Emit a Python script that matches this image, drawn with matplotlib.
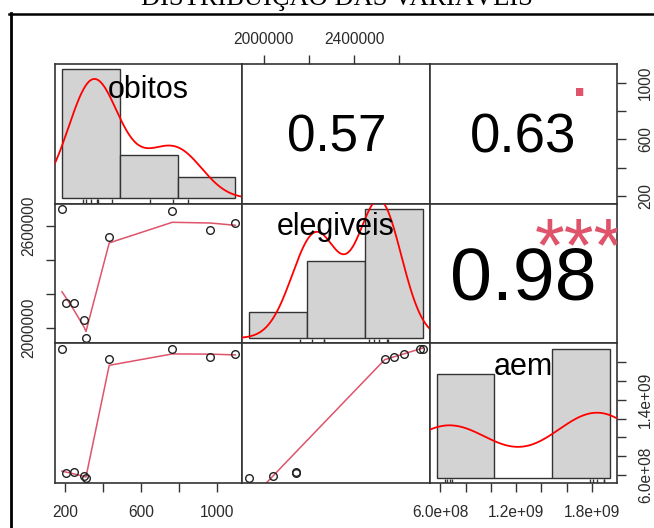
import numpy as np
import matplotlib.pyplot as plt
from matplotlib.textpath import TextPath
from matplotlib.font_manager import FontProperties
from matplotlib.transforms import offset_copy
from matplotlib.lines import Line2D

plt.rcParams['font.family'] = ['Liberation Sans', 'DejaVu Sans']

# dados
nomes = ['obitos', 'elegiveis', 'aem']
obitos = [184, 205, 247, 300, 310, 432, 763, 963, 1094]
elegiveis = [2703000, 2144000, 2144000, 2042000, 1937000, 2535000, 2690000, 2577000, 2619000]
aem = [1.945e9, 6.2e8, 6.3e8, 5.9e8, 5.7e8, 1.83e9, 1.945e9, 1.85e9, 1.89e9]
dados = [np.array(obitos, float), np.array(elegiveis, float), np.array(aem, float)]

# quebras dos histogramas (FD)
breaks = [[0, 500, 1000, 1500], [1.5e6, 2.0e6, 2.5e6, 3.0e6], [5e8, 1e9, 1.5e9, 2e9]]

# correlacoes e significancia (paineis de cima)
cor_pares = [(0, 1), (0, 2), (1, 2)]
cor_vals = [0.57, 0.63, 0.98]
cor_txt = ['0.57', '0.63', '0.98']
signif = ['', '.', '***']

# eixos
ticks = [[200, 400, 600, 800, 1000],
         [2.0e6, 2.2e6, 2.4e6, 2.6e6],
         [6e8, 8e8, 1.0e9, 1.2e9, 1.4e9, 1.6e9, 1.8e9]]
x_labels = [['200', '', '600', '', '1000'],
            ['2000000', '', '2400000', ''],
            ['6.0e+08', '', '', '1.2e+09', '', '', '1.8e+09']]
y_labels = [['200', '', '600', '', '1000'],
            ['2000000', '', '', '2600000'],
            ['6.0e+08', '', '', '', '1.4e+09', '', '']]

TXT = '#2b2b2b'
LINHA = '#333333'


def lowess(x, y, f=2/3, iters=3):
    # mesma rotina do lowess do R (clowess)
    o = np.argsort(x, kind='stable')
    x = np.asarray(x, float)[o]
    y = np.asarray(y, float)[o]
    n = len(x)
    ns = max(min(int(f * n + 1e-7), n), 2)
    rng = x[-1] - x[0]
    delta = 0.01 * rng
    rw = np.ones(n)
    ys = np.zeros(n)

    def lowest(xs, nleft, nright, userw):
        h = max(xs - x[nleft], x[nright] - xs)
        h9, h1 = 0.999 * h, 0.001 * h
        w = np.zeros(n)
        a = 0.0
        j = nleft
        while j < n:
            r = abs(x[j] - xs)
            if r <= h9:
                w[j] = 1.0 if r <= h1 else (1 - (r / h) ** 3) ** 3
                if userw:
                    w[j] *= rw[j]
                a += w[j]
            elif x[j] > xs:
                break
            j += 1
        nrt = j - 1
        if a <= 0:
            return None
        idx = slice(nleft, nrt + 1)
        w[idx] /= a
        if h > 0:
            a = np.sum(w[idx] * x[idx])
            b = xs - a
            c = np.sum(w[idx] * (x[idx] - a) ** 2)
            if np.sqrt(c) > 0.001 * rng:
                b /= c
                w[idx] *= (b * (x[idx] - a) + 1)
        return np.sum(w[idx] * y[idx])

    for it in range(iters + 1):
        nleft, nright = 0, ns - 1
        last = -1
        i = 0
        while True:
            if nright < n - 1:
                if x[i] - x[nleft] > x[nright + 1] - x[i]:
                    nleft += 1
                    nright += 1
                    continue
            v = lowest(x[i], nleft, nright, it > 0)
            ys[i] = y[i] if v is None else v
            if last < i - 1:
                den = x[i] - x[last]
                for j in range(last + 1, i):
                    al = (x[j] - x[last]) / den
                    ys[j] = al * ys[i] + (1 - al) * ys[last]
            last = i
            cut = x[last] + delta
            i = last + 1
            while i < n:
                if x[i] > cut:
                    break
                if x[i] == x[last]:
                    ys[i] = ys[last]
                    last = i
                i += 1
            i = max(last + 1, i - 1)
            if last >= n - 1:
                break
        res = y - ys
        if it >= iters:
            break
        ar = np.abs(res)
        s = np.sort(ar)
        cmad = 6 * s[n // 2] if n % 2 else 3 * (s[n // 2 - 1] + s[n // 2])
        if cmad < 1e-7 * ar.mean():
            break
        rw = np.where(ar <= 0.001 * cmad, 1.0,
                      np.where(ar <= 0.999 * cmad, (1 - (ar / cmad) ** 2) ** 2, 0.0))
    return x, ys


def densidade(v):
    # density() do R: kernel gaussiano, bw.nrd0
    v = np.asarray(v, float)
    n = len(v)
    q1, q3 = np.percentile(v, [25, 75])
    bw = 0.9 * min(v.std(ddof=1), (q3 - q1) / 1.34) * n ** (-0.2)
    g = np.linspace(v.min() - 3 * bw, v.max() + 3 * bw, 512)
    d = np.exp(-0.5 * ((g[:, None] - v[None, :]) / bw) ** 2).sum(1) / (n * bw * np.sqrt(2 * np.pi))
    return g, d


def texto_centro(ax, x, y, s, size, color='black', clip=False, z=5):
    # centraliza pelo contorno dos glifos, como o R faz
    fp = FontProperties(family='Liberation Sans', size=size)
    ext = TextPath((0, 0), s, size=size, prop=fp).get_extents()
    cx = (ext.x0 + ext.x1) / 2
    cy = (ext.y0 + ext.y1) / 2
    tr = offset_copy(ax.transAxes, fig=ax.figure, x=-cx, y=-cy, units='points')
    ax.text(x, y, s, fontproperties=fp, color=color, ha='left', va='baseline',
            transform=tr, clip_on=clip, zorder=z)


lims = []
for v in dados:
    r = v.max() - v.min()
    lims.append((v.min() - 0.04 * r, v.max() + 0.04 * r))

W, H = 654, 528
fig = plt.figure(figsize=(W / 100, H / 100), dpi=100)
gs = fig.add_gridspec(3, 3, left=55 / W, right=617 / W, top=1 - 64 / H, bottom=1 - 483 / H,
                      wspace=0, hspace=0)

axs = [[None] * 3 for _ in range(3)]
for i in range(3):
    for j in range(3):
        ax = fig.add_subplot(gs[i, j])
        axs[i][j] = ax
        ax.set_xlim(lims[j])
        ax.set_ylim(lims[i])
        ax.set_xticks([])
        ax.set_yticks([])
        for s in ax.spines.values():
            s.set_color(LINHA)
            s.set_linewidth(1.2)

        if i > j:
            x, y = dados[j], dados[i]
            ax.plot(x, y, 'o', mfc='none', mec='#222222', ms=5.5, mew=1.0, zorder=3)
            lx, ly = lowess(x, y)
            ax.plot(lx, ly, color='#DF536B', lw=1.1, zorder=2)
        elif i == j:
            v = dados[i]
            b = breaks[i]
            hx = ax.inset_axes([0, 0, 1, 1])
            hx.set_facecolor('none')
            hx.axis('off')
            cnt, _, _ = hx.hist(v, bins=b, density=True, color='#D3D3D3',
                                edgecolor=LINHA, lw=1.0)
            md = cnt.max()
            sp = b[-1] - b[0]
            hx.set_xlim(b[0] - 0.04 * sp, b[-1] + 0.04 * sp)
            hx.set_ylim(-0.04 * md, 1.04 * md)
            g, d = densidade(v)
            hx.plot(g, d, color='red', lw=1.3)
            hx.vlines(v, 0, 0.03, transform=hx.get_xaxis_transform(), color=LINHA, lw=1.0)
            texto_centro(hx, 0.5, 0.8333, nomes[i], 22)

for k, (i, j) in enumerate(cor_pares):
    ax = axs[i][j]
    base = 55
    texto_centro(ax, 0.5, 0.5, cor_txt[k], base * (cor_vals[k] + 0.3) / 1.3)
    if signif[k]:
        texto_centro(ax, 0.8, 0.8, signif[k], base, color='#DF536B', clip=True)

tick_kw = dict(direction='out', length=6.3, width=1.0, color=LINHA, labelsize=11.2,
               labelcolor=TXT)

# eixo de baixo: colunas 1 e 3 ; de cima: coluna 2
for j, ax in [(0, axs[2][0]), (2, axs[2][2])]:
    ax.set_xticks(ticks[j])
    ax.set_xticklabels(x_labels[j])
    ax.tick_params(axis='x', bottom=True, labelbottom=True, pad=9.5, **tick_kw)
ax = axs[0][1]
ax.set_xticks(ticks[1])
ax.set_xticklabels(x_labels[1])
ax.tick_params(axis='x', top=True, labeltop=True, bottom=False, labelbottom=False, pad=6.3, **tick_kw)

# eixo direito: linhas 1 e 3 ; esquerdo: linha 2
for i, ax in [(0, axs[0][2]), (2, axs[2][2])]:
    ax.set_yticks(ticks[i])
    ax.set_yticklabels(y_labels[i], rotation=90, va='center')
    ax.tick_params(axis='y', right=True, labelright=True, left=False, labelleft=False, pad=9, **tick_kw)
ax = axs[1][0]
ax.set_yticks(ticks[1])
ax.set_yticklabels(y_labels[1], rotation=90, va='center')
ax.tick_params(axis='y', left=True, labelleft=True, pad=7.5, **tick_kw)

# titulo (cortado no topo) e moldura da imagem
fig.text(337 / W, 1 - 5 / H, 'DISTRIBUIÇÃO DAS VARIÁVEIS', family='Liberation Serif',
         fontsize=19.1, ha='center', va='baseline', color='black')
fig.add_artist(Line2D([9 / W, 1], [1 - 13.5 / H, 1 - 13.5 / H], color='black', lw=1.8))
fig.add_artist(Line2D([11 / W, 11 / W], [0, 1 - 12.5 / H], color='black', lw=2.0))

fig.savefig('out.png', dpi=100)
